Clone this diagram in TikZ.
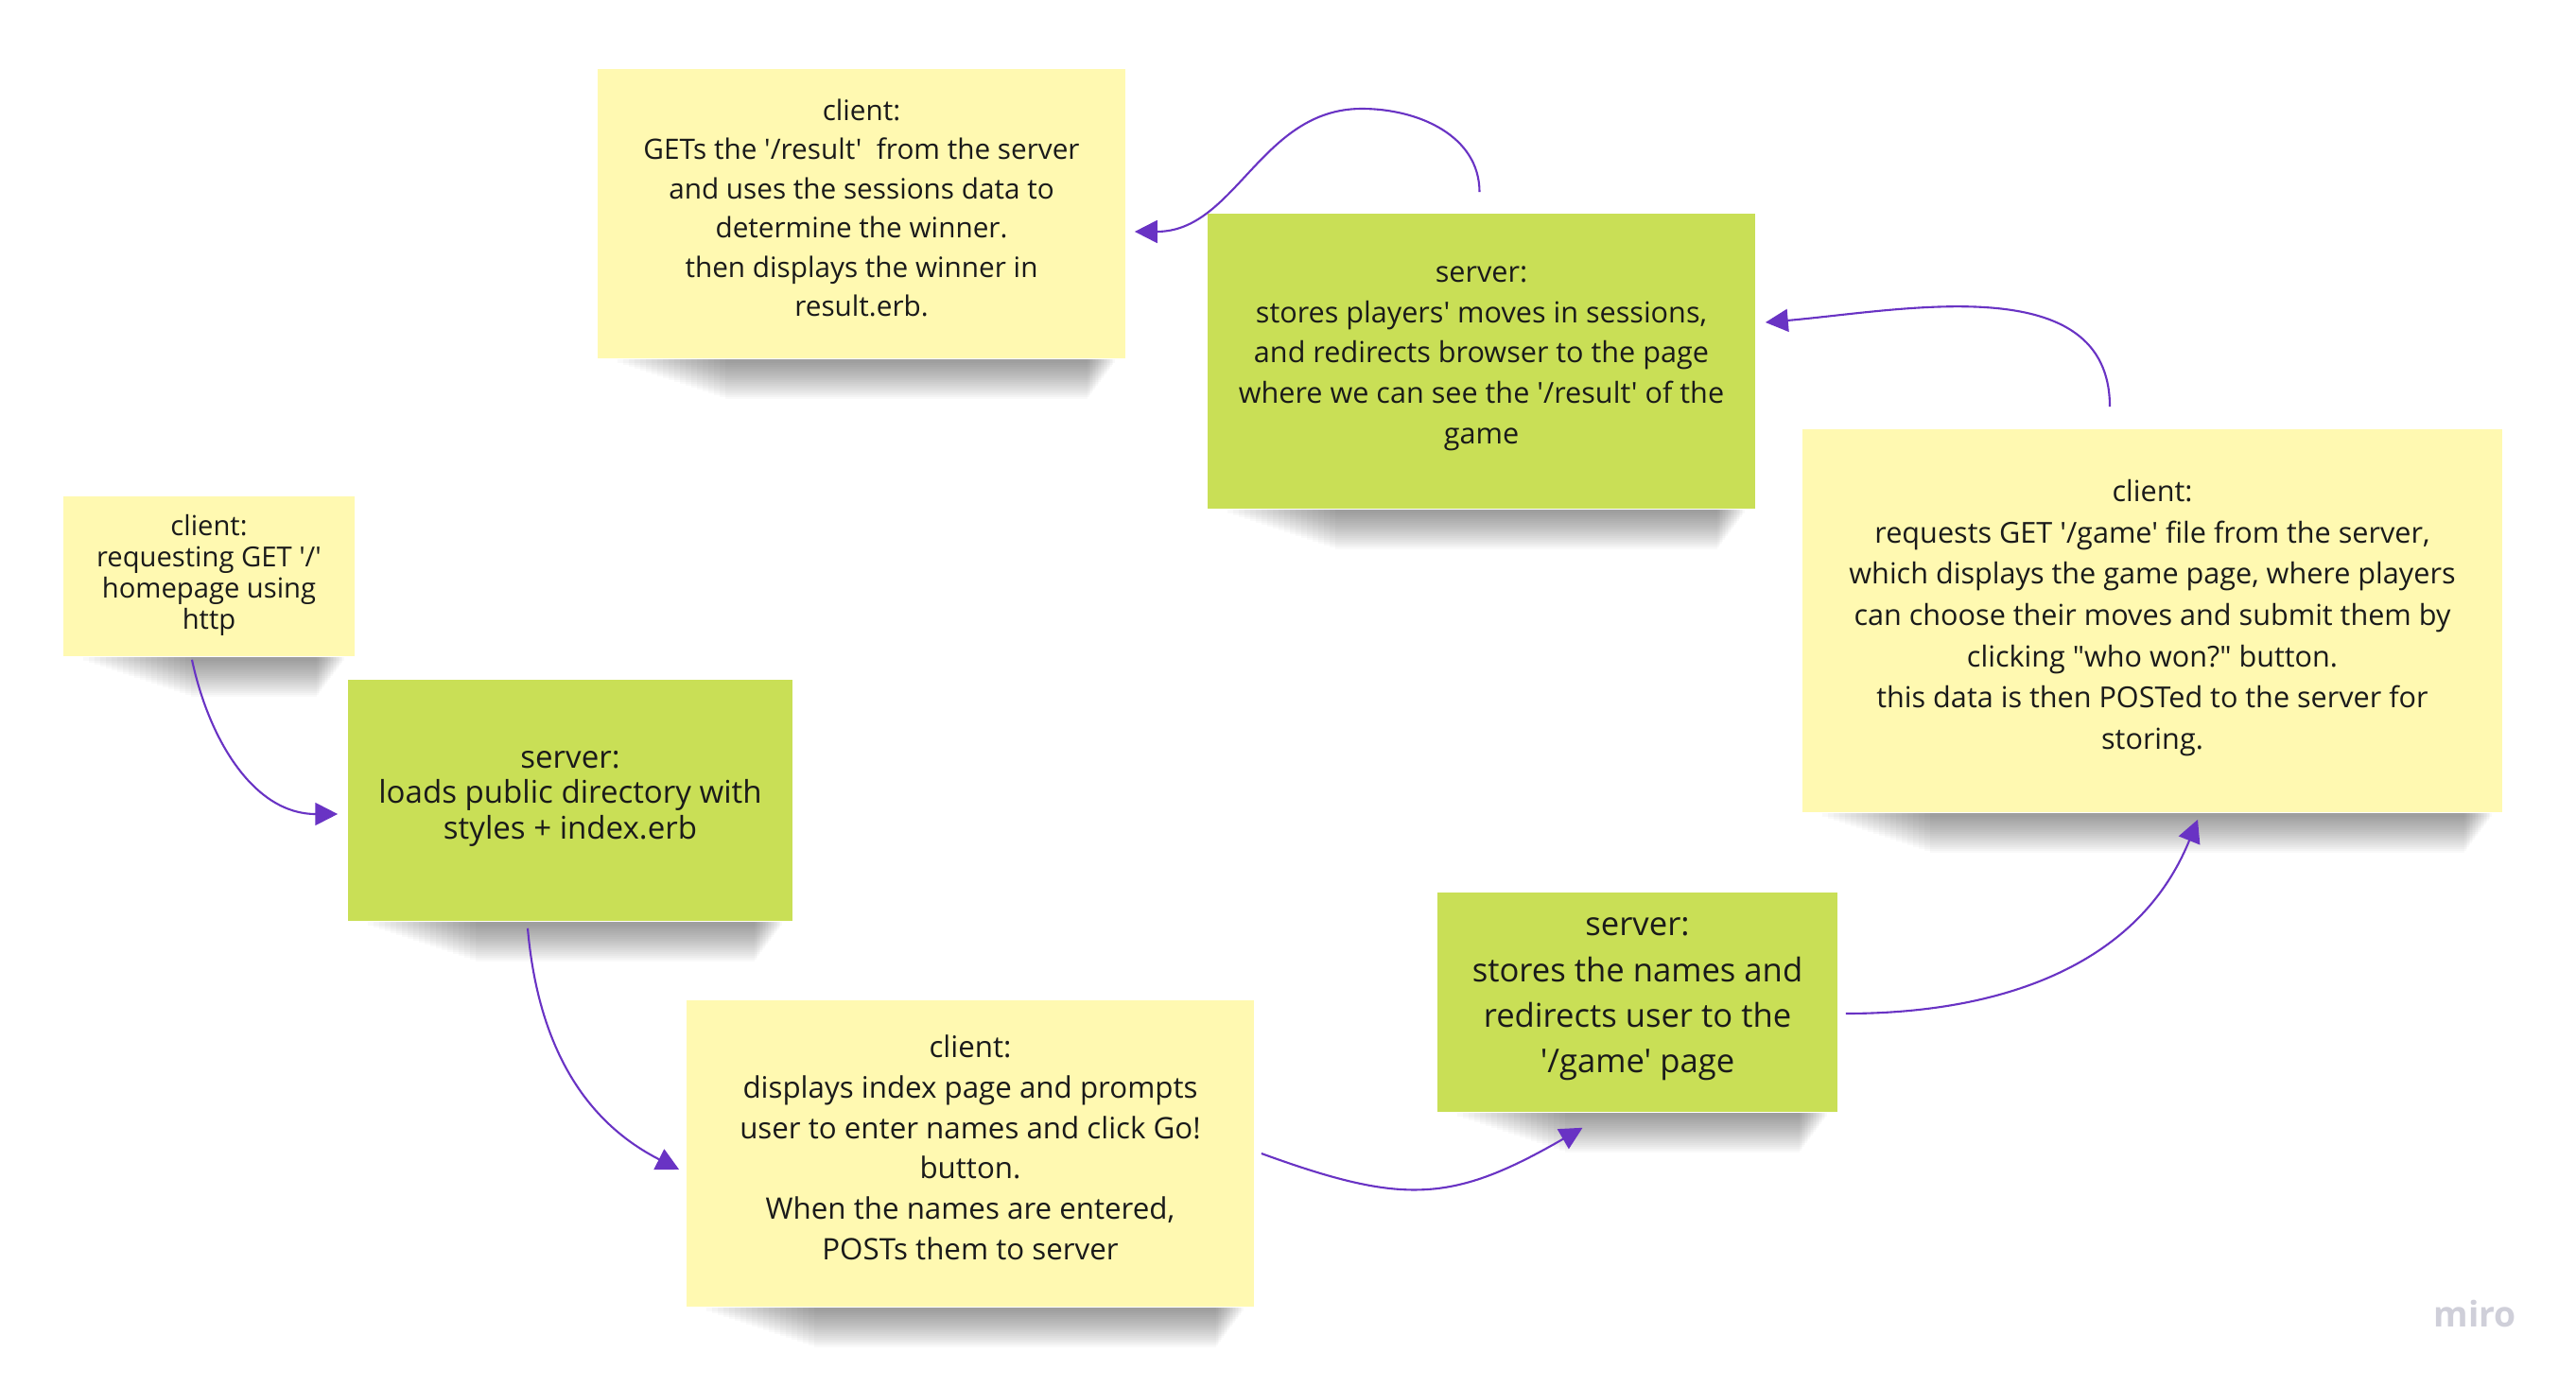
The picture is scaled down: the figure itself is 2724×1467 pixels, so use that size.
\documentclass[tikz,border=0pt]{standalone}
\usepackage{fontspec}
\setmainfont{Open Sans}[Ligatures=TeXOff]
\usetikzlibrary{arrows.meta,calc}

\definecolor{stickyyellow}{HTML}{FFF9B1}
\definecolor{stickygreen}{HTML}{C9DF56}
\definecolor{flowviolet}{HTML}{6933C4}
\definecolor{notetext}{HTML}{1A1A1A}
\definecolor{markgray}{HTML}{CFCFD9}

\begin{document}
\begin{tikzpicture}[x=0.01cm, y=0.01cm]
            \tikzstyle{every node}+=[inner sep=0pt]
            \tikzset{
              note/.style={rectangle, align=center, text=notetext, execute at begin node=\strut, execute at end node=\strut},
              client/.style={note, fill=stickyyellow},
              server/.style={note, fill=stickygreen},
              flow/.style={draw=flowviolet, line width=0.6pt, -{Triangle[length=6.8pt,width=6.8pt]}}
            }
            \useasboundingbox (0,0) rectangle (2724,-1467);
            % sticky notes
            \node [client, minimum width=3.08cm, minimum height=1.69cm, font=\fontsize{8.3}{9.4}\selectfont] (home) at (221,-609.5) {client:\\requesting GET '/'\\homepage using\\http};
            \node [server, minimum width=4.70cm, minimum height=2.55cm, font=\fontsize{9.4}{10.7}\selectfont] (load) at (603,-846.5) {server:\\loads public directory with\\styles + index.erb};
            \node [client, minimum width=6.00cm, minimum height=3.24cm, font=\fontsize{8.9}{12.2}\selectfont] (index) at (1026,-1220) {client:\\displays index page and prompts\\user to enter names and click Go!\\button.\\When the names are entered,\\POSTs them to server};
            \node [server, minimum width=4.23cm, minimum height=2.32cm, font=\fontsize{9.85}{13.75}\selectfont] (names) at (1731.5,-1060) {server:\\stores the names and\\redirects user to the\\'/game' page};
            \node [client, minimum width=7.40cm, minimum height=4.05cm, font=\fontsize{8.7}{12.4}\selectfont] (game) at (2276,-656.5) {client:\\requests GET '/game' file from the server,\\which displays the game page, where players\\can choose their moves and submit them by\\clicking "who won?" button.\\this data is then POSTed to the server for\\storing.};
            \node [server, minimum width=5.79cm, minimum height=3.12cm, font=\fontsize{8.7}{12.2}\selectfont] (moves) at (1566.5,-382) {server:\\stores players' moves in sessions,\\and redirects browser to the page\\where we can see the '/result' of the\\game};
            \node [client, minimum width=5.58cm, minimum height=3.06cm, font=\fontsize{8.45}{11.8}\selectfont] (result) at (911,-226) {client:\\GETs the '/result'\ \ from the server\\and uses the sessions data to\\determine the winner.\\then displays the winner in\\result.erb.};
            % soft shadows under the notes
            \foreach \n in {home,load,index,names,game,moves,result}
              \foreach \i in {0,...,19}
                \fill [black, opacity=0.023] ($(\n.south west)+(22+6*\i,0)$) rectangle ($(\n.south east)+(-12-1.5*\i,-4-2*\i)$);
            % connectors
            \draw [flow] ($(home.south)+(-18,-3)$) to[out=-78,in=180] ($(load.west)+(-10,-14.5)$);
            \draw [flow] ($(load.south)+(-45,-7)$) to[out=-85,in=153] ($(index.west)+(-7,-17)$);
            \draw [flow] ($(index.east)+(7,0)$) to[out=-20,in=210,looseness=1.2] ($(names.south)+(-58,-16)$);
            \draw [flow] ($(names.east)+(8,-12)$) to[out=0,in=-112] ($(game.south)+(48,-7)$);
            \draw [flow] ($(game.north)+(-45,23)$) to[out=90,in=5] ($(moves.east)+(10,41)$);
            \coordinate (fbend) at (1440,-115);
            \draw [flow] ($(moves.north)+(-2,22)$) to[out=90,in=0] (fbend) to[out=180,in=0] ($(result.east)+(9,-19)$);
            % watermark
            \node [anchor=base, text=markgray, font=\fontsize{10.6}{12}\selectfont\bfseries] (miro) at (2617,-1403) {miro};
        \end{tikzpicture}
\end{document}
